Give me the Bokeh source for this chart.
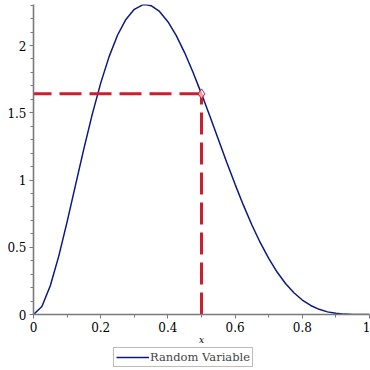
from bokeh.plotting import figure
from bokeh.layouts import column
from bokeh.models import FixedTicker, Legend, LegendItem, Range1d
from bokeh.embed import file_html
from bokeh.resources import INLINE

# Curve values (x step 0.025)
x_vals = [0.0, 0.025, 0.05, 0.075, 0.1, 0.125, 0.15, 0.175, 0.2, 0.225,
          0.25, 0.275, 0.3, 0.325, 0.3333, 0.35, 0.375, 0.4, 0.425, 0.45,
          0.475, 0.5, 0.525, 0.55, 0.575, 0.6, 0.625, 0.65, 0.675, 0.7,
          0.725, 0.75, 0.775, 0.8, 0.825, 0.85, 0.875, 0.9, 0.925, 0.95,
          0.975, 1.0]
density = [0.0, 0.0593, 0.2138, 0.4324, 0.6889, 0.9617, 1.2332, 1.4896, 1.7203, 1.9176,
           2.0764, 2.1939, 2.2690, 2.3024, 2.3045, 2.2960, 2.2531, 2.1773, 2.0732, 1.9457,
           1.7998, 1.6406, 1.4733, 1.3025, 1.1326, 0.9677, 0.8111, 0.6657, 0.5338, 0.4168,
           0.3156, 0.2307, 0.1616, 0.1075, 0.0670, 0.0384, 0.0196, 0.0085, 0.0028, 0.0006,
           0.0000, 0.0]

point_x = [0.5]
point_y = [1.6406]
h_line_x = [0.5, 0.0]
v_line_y = [0.0, 1.6406]

x_ticks = [0, 0.2, 0.4, 0.6, 0.8, 1]
x_tick_labels = ["0", "0.2", "0.4", "0.6", "0.8", "1"]
x_minor = [0.1, 0.3, 0.5, 0.7, 0.9]
y_ticks = [0, 0.5, 1, 1.5, 2]
y_tick_labels = ["0", "0.5", "1", "1.5", "2"]
y_minor = [0.1, 0.2, 0.3, 0.4, 0.6, 0.7, 0.8, 0.9, 1.1, 1.2, 1.3, 1.4,
           1.6, 1.7, 1.8, 1.9, 2.1, 2.2, 2.3]
legend_label = "Random Variable"

NAVY = "#0a1a80"
RED = "#c8202e"
AXIS = "#7a7a7a"
FONT = "DejaVu Serif"

p = figure(width=370, height=347, output_backend="svg", toolbar_location=None,
           x_range=Range1d(0, 1), y_range=Range1d(0, 2.305),
           min_border_left=33, min_border_right=1, min_border_top=4, min_border_bottom=32)
p.outline_line_color = None
p.grid.visible = False
p.background_fill_color = "white"

p.line(x_vals, density, line_color=NAVY, line_width=1.5)
p.line(h_line_x, [point_y[0], point_y[0]], line_color=RED, line_width=3, line_dash="22 8")
p.line([point_x[0], point_x[0]], v_line_y, line_color=RED, line_width=3, line_dash="22 8")
p.scatter(point_x, point_y, marker="diamond", size=10, fill_color="white", fill_alpha=0.6,
          line_color=RED, line_width=1)

p.xaxis.ticker = FixedTicker(ticks=x_ticks, minor_ticks=x_minor)
p.yaxis.ticker = FixedTicker(ticks=y_ticks, minor_ticks=y_minor)
p.xaxis.major_label_overrides = {t: l for t, l in zip(x_ticks, x_tick_labels)}
p.yaxis.major_label_overrides = {t: l for t, l in zip(y_ticks, y_tick_labels)}

for ax in (p.xaxis[0], p.yaxis[0]):
    ax.axis_line_color = AXIS
    ax.axis_line_width = 1.6
    ax.major_tick_line_color = AXIS
    ax.minor_tick_line_color = AXIS
    ax.major_tick_in = 0
    ax.major_tick_out = 4
    ax.minor_tick_in = 0
    ax.minor_tick_out = 3
    ax.major_label_text_font = FONT
    ax.major_label_text_font_size = "12px"
    ax.major_label_text_color = "black"
    ax.major_label_standoff = 3

p.xaxis.axis_label = "x"
p.xaxis.axis_label_text_font = FONT
p.xaxis.axis_label_text_font_style = "italic"
p.xaxis.axis_label_text_font_size = "9px"
p.xaxis.axis_label_text_color = "black"
p.xaxis.axis_label_standoff = 0

# legend strip below the plot (its frame is aligned with the main frame)
q = figure(width=370, height=23, output_backend="svg", toolbar_location=None,
           x_range=Range1d(0, 1), y_range=Range1d(0, 1),
           min_border=0, x_axis_type=None, y_axis_type=None)
q.outline_line_color = None
q.grid.visible = False
key = q.line([2, 3], [2, 3], line_color=NAVY, line_width=1.5)
legend = Legend(items=[LegendItem(label=legend_label, renderers=[key])],
                location=(80, 3), orientation="horizontal",
                border_line_color=AXIS, border_line_width=1.5,
                background_fill_color="white", background_fill_alpha=1,
                label_text_font=FONT, label_text_font_size="11.5px",
                glyph_width=33, glyph_height=14, label_standoff=1,
                label_height=14, padding=2, margin=0, spacing=0)
q.add_layout(legend, "center")

layout = column(p, q, spacing=0)
open("out.html", "w").write(file_html(layout, INLINE))
